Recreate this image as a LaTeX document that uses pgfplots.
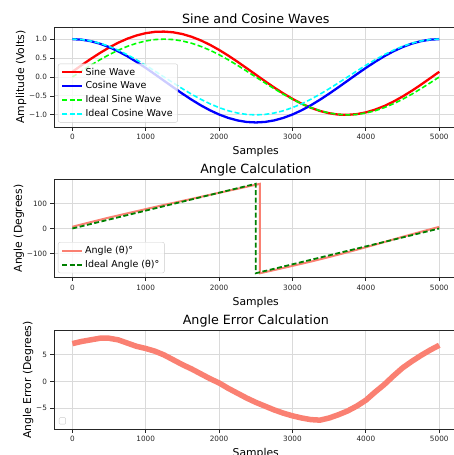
\documentclass[border=0pt]{standalone}
\usepackage{fontspec}
\setmainfont{DejaVu Sans}
\usepackage{pgfplots}
\pgfplotsset{compat=1.18}

\definecolor{mplgrid}{RGB}{218,218,218}
\definecolor{salmon}{RGB}{250,128,114}
\definecolor{dgreen}{RGB}{0,128,0}
\definecolor{lime}{RGB}{0,255,0}
\definecolor{aqua}{RGB}{0,255,255}

\pgfplotsset{
  panel/.style={
    scale only axis, width=403.6pt,
    xmin=-250, xmax=5250,
    axis line style={line width=0.8pt, black!85},
    grid=major, major grid style={line width=0.9pt, mplgrid},
    tick align=outside, major tick length=3.5pt,
    tick style={line width=0.8pt, black!85},
    xtick pos=bottom, ytick pos=left,
    xtick={0,1000,2000,3000,4000,5000},
    scaled x ticks=false,
    /pgf/number format/assume math mode=true,
    /pgf/number format/1000 sep={},
    ticklabel style={font=\fontsize{7.3}{8}\selectfont, text=black!85},
    label style={font=\fontsize{10.8}{12}\selectfont},
    title style={font=\fontsize{12.7}{14}\selectfont, yshift=-6pt},
    ylabel shift=-4pt,
    xlabel={Samples},
    legend cell align=left,
    legend image code/.code={\draw[##1] (0pt,0pt) -- (20pt,0pt);},
    legend style={at={(rel axis cs:0,0)}, anchor=south west,
      xshift=4pt, yshift=4.5pt, draw=black!20, fill=white,
      fill opacity=0.8, text opacity=1, rounded corners=2pt,
      font=\fontsize{9.5}{11}\selectfont, row sep=1.2pt},
  },
  dashline/.style={dash pattern=on 5pt off 2.5pt},
}

\begin{document}
\begin{tikzpicture}

% ---- Sine and Cosine Waves ----
\begin{axis}[panel, at={(54pt,-27pt)}, anchor=north west, height=100pt,
  ymin=-1.32, ymax=1.32,
  ytick={-1,-0.5,0,0.5,1}, yticklabels={−1.0,−0.5,0.0,0.5,1.0},
  title={Sine and Cosine Waves}, ylabel={Amplitude (Volts)}]
\addplot[red, line width=2.3pt] coordinates {
(0,0.138)(125,0.310)(250,0.476)(375,0.633)(500,0.777)(625,0.905)(750,1.012)(875,1.097)(1000,1.157)(1125,1.192)(1250,1.199)(1375,1.180)(1500,1.134)(1625,1.062)(1750,0.967)(1875,0.850)(2000,0.715)(2125,0.565)(2250,0.403)(2375,0.234)(2500,0.062)(2625,-0.110)(2750,-0.276)(2875,-0.433)(3000,-0.577)(3125,-0.705)(3250,-0.812)(3375,-0.897)(3500,-0.957)(3625,-0.992)(3750,-0.999)(3875,-0.980)(4000,-0.934)(4125,-0.862)(4250,-0.767)(4375,-0.650)(4500,-0.515)(4625,-0.365)(4750,-0.203)(4875,-0.034)(5000,0.138)};
\addlegendentry{Sine Wave}
\addplot[blue, line width=2.3pt] coordinates {
(0,1.000)(125,0.986)(250,0.946)(375,0.880)(500,0.790)(625,0.678)(750,0.547)(875,0.399)(1000,0.240)(1125,0.072)(1250,-0.100)(1375,-0.272)(1500,-0.440)(1625,-0.599)(1750,-0.747)(1875,-0.878)(2000,-0.990)(2125,-1.080)(2250,-1.146)(2375,-1.187)(2500,-1.200)(2625,-1.187)(2750,-1.146)(2875,-1.080)(3000,-0.990)(3125,-0.878)(3250,-0.747)(3375,-0.599)(3500,-0.440)(3625,-0.272)(3750,-0.100)(3875,0.072)(4000,0.240)(4125,0.399)(4250,0.547)(4375,0.678)(4500,0.790)(4625,0.880)(4750,0.946)(4875,0.986)(5000,1.000)};
\addlegendentry{Cosine Wave}
\addplot[lime, line width=1.6pt, dashline] coordinates {
(0,0)(125,0.156)(250,0.309)(375,0.454)(500,0.588)(625,0.707)(750,0.809)(875,0.891)(1000,0.951)(1125,0.988)(1250,1)(1375,0.988)(1500,0.951)(1625,0.891)(1750,0.809)(1875,0.707)(2000,0.588)(2125,0.454)(2250,0.309)(2375,0.156)(2500,0)(2625,-0.156)(2750,-0.309)(2875,-0.454)(3000,-0.588)(3125,-0.707)(3250,-0.809)(3375,-0.891)(3500,-0.951)(3625,-0.988)(3750,-1)(3875,-0.988)(4000,-0.951)(4125,-0.891)(4250,-0.809)(4375,-0.707)(4500,-0.588)(4625,-0.454)(4750,-0.309)(4875,-0.156)(5000,0)};
\addlegendentry{Ideal Sine Wave}
\addplot[aqua, line width=1.6pt, dashline] coordinates {
(0,1)(125,0.988)(250,0.951)(375,0.891)(500,0.809)(625,0.707)(750,0.588)(875,0.454)(1000,0.309)(1125,0.156)(1250,0)(1375,-0.156)(1500,-0.309)(1625,-0.454)(1750,-0.588)(1875,-0.707)(2000,-0.809)(2125,-0.891)(2250,-0.951)(2375,-0.988)(2500,-1)(2625,-0.988)(2750,-0.951)(2875,-0.891)(3000,-0.809)(3125,-0.707)(3250,-0.588)(3375,-0.454)(3500,-0.309)(3625,-0.156)(3750,0)(3875,0.156)(4000,0.309)(4125,0.454)(4250,0.588)(4375,0.707)(4500,0.809)(4625,0.891)(4750,0.951)(4875,0.988)(5000,1)};
\addlegendentry{Ideal Cosine Wave}
\end{axis}

% ---- Angle Calculation ----
\begin{axis}[panel, at={(54pt,-179.3pt)}, anchor=north west, height=98.4pt,
  ymin=-198, ymax=198,
  ytick={-100,0,100}, yticklabels={−100,0,100},
  title={Angle Calculation}, ylabel={Angle (Degrees)}]
\addplot[salmon, line width=2pt] coordinates {
(0,7.0)(250,25.7)(500,44.0)(750,61.1)(1000,78.1)(1250,94.9)(1500,111.1)(1750,127.4)(2000,143.7)(2250,159.8)(2500,176.1)(2556,179.8)(2557,-180.0)(2625,-175.6)(2750,-167.3)(3000,-150.4)(3250,-133.1)(3500,-114.8)(3750,-95.5)(4000,-75.5)(4250,-54.6)(4500,-33.5)(4750,-13.2)(5000,6.7)};
\addlegendentry{Angle (θ)°}
\addplot[dgreen, line width=1.8pt, dashline] coordinates {
(0,0)(1250,90)(2499,179.9)(2500,-180)(3750,-90)(5000,0)};
\addlegendentry{Ideal Angle (θ)°}
\end{axis}

% ---- Angle Error Calculation ----
\begin{axis}[panel, at={(54pt,-330.7pt)}, anchor=north west, height=98.6pt,
  ymin=-8.9, ymax=9.4,
  ytick={-5,0,5}, yticklabels={−5,0,5},
  title={Angle Error Calculation}, ylabel={Angle Error (Degrees)}]
\addplot[salmon, line width=5.5pt] coordinates {
(0,7.0)(125,7.4)(250,7.7)(375,8.0)(500,8.0)(625,7.7)(750,7.1)(875,6.5)(1000,6.1)(1125,5.6)(1250,4.9)(1375,4.0)(1500,3.1)(1625,2.3)(1750,1.4)(1875,0.5)(2000,-0.3)(2125,-1.3)(2250,-2.2)(2375,-3.1)(2500,-3.9)(2625,-4.6)(2750,-5.3)(2875,-5.9)(3000,-6.4)(3125,-6.8)(3250,-7.1)(3375,-7.2)(3500,-6.8)(3625,-6.2)(3750,-5.5)(3875,-4.6)(4000,-3.5)(4125,-2.0)(4250,-0.6)(4375,1.0)(4500,2.5)(4625,3.7)(4750,4.8)(4875,5.8)(5000,6.7)};
\node[draw=black!20, fill=white, rounded corners=1pt, minimum size=6.5pt,
  inner sep=0pt, anchor=south west] at ([xshift=5pt,yshift=5pt]rel axis cs:0,0) {};
\end{axis}

\pgfresetboundingbox
\useasboundingbox (0pt,0pt) rectangle (454pt,-455pt);
\end{tikzpicture}
\end{document}
